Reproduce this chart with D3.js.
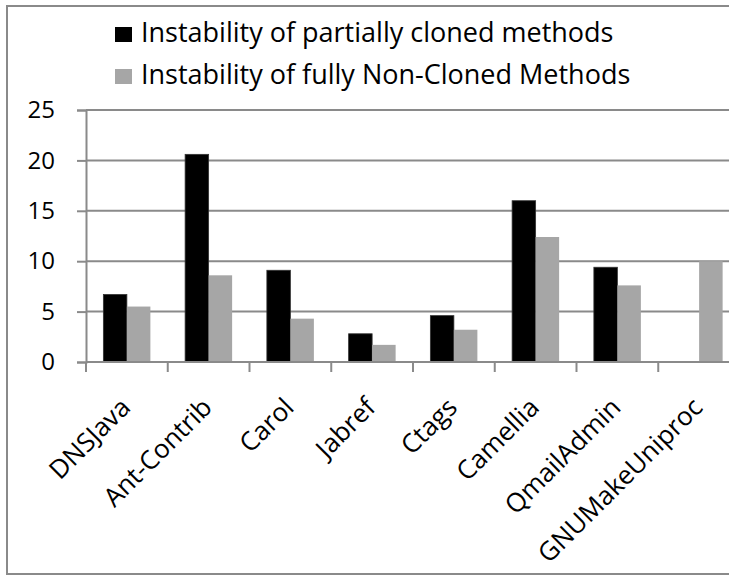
<!DOCTYPE html>
<html>
<head>
<meta charset="utf-8">
<script src="https://d3js.org/d3.v7.min.js"></script>
<style>
  html, body { margin: 0; padding: 0; background: #fff; }
  text { font-family: "Open Sans", sans-serif; fill: #000; }
</style>
</head>
<body>
<svg width="729" height="575"></svg>
<script>
// data
var categories = ["DNSJava", "Ant-Contrib", "Carol", "Jabref", "Ctags", "Camellia", "QmailAdmin", "GNUMakeUniproc"];
var seriesNames = ["Instability of partially cloned methods", "Instability of fully Non-Cloned Methods"];
var partiallyCloned = [6.7, 20.6, 9.1, 2.8, 4.6, 16.0, 9.4, 0];
var nonCloned = [5.5, 8.6, 4.3, 1.7, 3.2, 12.4, 7.6, 10.0];
var yTicks = [0, 5, 10, 15, 20, 25];
var colors = ["#000000", "#a6a6a6"];

var svg = d3.select("svg"),
    width = +svg.attr("width"),
    height = +svg.attr("height");

var plotLeft = 86, plotTop = 110, plotBottom = 362,
    step = 81.75,
    plotRight = plotLeft + step * categories.length; // runs past the right edge, like the cropped original

var gridColor = "#8a8a8a";

// outer frame (right side falls outside the picture)
svg.append("rect")
    .attr("x", 7).attr("y", 6)
    .attr("width", 800).attr("height", 568)
    .attr("fill", "none")
    .attr("stroke", gridColor)
    .attr("stroke-width", 2);

var x0 = d3.scaleBand().domain(categories).range([plotLeft, plotRight]).padding(0);
var x1 = d3.scaleBand().domain(d3.range(seriesNames.length))
    .range([step * 0.2125, step * 0.7875]).padding(0);
var y = d3.scaleLinear().domain([0, 25]).range([plotBottom, plotTop]);

// gridlines
svg.append("g").selectAll("line")
    .data(yTicks.filter(function(d) { return d > 0; }))
    .enter().append("line")
    .attr("x1", plotLeft).attr("x2", plotRight)
    .attr("y1", function(d) { return y(d); })
    .attr("y2", function(d) { return y(d); })
    .attr("stroke", gridColor)
    .attr("stroke-width", 2);

// bars
var rows = categories.map(function(c, i) { return [partiallyCloned[i], nonCloned[i]]; });
var groups = svg.append("g").selectAll("g")
    .data(rows)
    .enter().append("g")
    .attr("transform", function(d, i) { return "translate(" + x0(categories[i]) + ",0)"; });

groups.selectAll("rect")
    .data(function(d) { return d.map(function(v, k) { return {k: k, v: v}; }); })
    .enter().append("rect")
    .filter(function(d) { return d.v > 0; })
    .attr("x", function(d) { return x1(d.k); })
    .attr("width", x1.bandwidth())
    .attr("y", function(d) { return y(d.v); })
    .attr("height", function(d) { return y(0) - y(d.v); })
    .attr("fill", function(d) { return colors[d.k]; })
    .attr("stroke", function(d) { return d.k === 0 ? "#333" : "none"; })
    .attr("stroke-width", 0.8);

// y axis
var yAxis = svg.append("g")
    .attr("transform", "translate(" + plotLeft + ",0)")
    .call(d3.axisLeft(y).tickValues(yTicks).tickSize(9).tickPadding(22));
yAxis.select(".domain").attr("stroke", gridColor).attr("stroke-width", 2);
yAxis.selectAll(".tick line").attr("stroke", gridColor).attr("stroke-width", 2);
yAxis.selectAll(".tick text")
    .attr("font-size", "24px")
    .attr("font-family", "Open Sans, sans-serif")
    .attr("fill", "#000");

// x axis: ticks sit at the band boundaries
var xAxis = svg.append("g")
    .attr("transform", "translate(0," + plotBottom + ")");
xAxis.append("line")
    .attr("x1", plotLeft).attr("x2", plotRight)
    .attr("stroke", gridColor).attr("stroke-width", 2);
xAxis.selectAll(".bound")
    .data(categories)
    .enter().append("line")
    .attr("class", "bound")
    .attr("x1", function(d) { return x0(d); })
    .attr("x2", function(d) { return x0(d); })
    .attr("y1", 0).attr("y2", 10)
    .attr("stroke", gridColor).attr("stroke-width", 2);

xAxis.selectAll(".lbl")
    .data(categories)
    .enter().append("text")
    .attr("class", "lbl")
    .attr("text-anchor", "end")
    .attr("font-size", "26px")
    .attr("transform", function(d) {
      return "translate(" + (x0(d) + x0.bandwidth() / 2 + 5) + ",47) rotate(-45)";
    })
    .text(function(d) { return d; });

// legend
var legend = svg.append("g").selectAll("g")
    .data(seriesNames)
    .enter().append("g")
    .attr("transform", function(d, i) { return "translate(115," + (27 + i * 42) + ")"; });
legend.append("rect")
    .attr("width", 17).attr("height", 15)
    .attr("fill", function(d, i) { return colors[i]; });
legend.append("text")
    .attr("x", 26).attr("y", 15)
    .attr("font-size", "27px")
    .text(function(d) { return d; });
</script>
</body>
</html>
